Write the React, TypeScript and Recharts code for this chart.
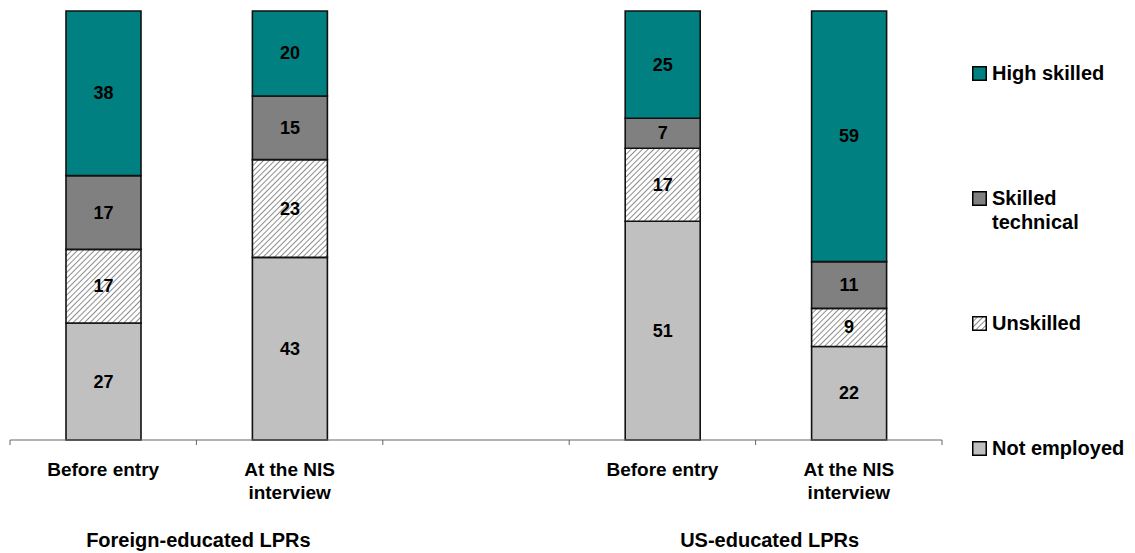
import { BarChart, Bar, XAxis, YAxis, LabelList } from 'recharts';

// occupation shares (percent) for each LPR group, before entry vs. at the NIS interview
const categories = ['Before entry', 'At the NIS\ninterview', '', 'Before entry', 'At the NIS\ninterview'];
const notEmployed = [27, 43, null, 51, 22];
const unskilled = [17, 23, null, 17, 9];
const skilledTechnical = [17, 15, null, 7, 11];
const highSkilled = [38, 20, null, 25, 59];

const groupLabels = ['Foreign-educated LPRs', 'US-educated LPRs'];
const groupSpans = [[0, 1], [3, 4]];

const series = [
  { key: 'notEmployed', name: 'Not employed', fill: '#C0C0C0' },
  { key: 'unskilled', name: 'Unskilled', fill: 'url(#hatch)' },
  { key: 'skilledTechnical', name: 'Skilled\ntechnical', fill: '#808080' },
  { key: 'highSkilled', name: 'High skilled', fill: '#008080' },
];

const data = categories.map((name, i) => ({
  name,
  notEmployed: notEmployed[i],
  unskilled: unskilled[i],
  skilledTechnical: skilledTechnical[i],
  highSkilled: highSkilled[i],
}));

const FONT = '"Liberation Sans", Arial, sans-serif';
const WIDTH = 1127;
const HEIGHT = 545;
const MARGIN = { top: 3, right: 193, left: 2, bottom: 13 };
const BAND = (WIDTH - MARGIN.left - MARGIN.right) / categories.length;

function CategoryTick(props: any) {
  const { x, y, payload, index } = props;
  const lines = String(payload.value).split('\n');
  const groupIdx = groupSpans.findIndex((s) => s[0] === index);
  const offsets = [2, 14];
  return (
    <g>
      <line x1={x - BAND / 2} x2={x - BAND / 2} y1={y} y2={y + 5} stroke="#666" />
      {index === categories.length - 1 && (
        <line x1={x + BAND / 2} x2={x + BAND / 2} y1={y} y2={y + 5} stroke="#666" />
      )}
      {lines.map((line, i) => (
        <text
          key={i}
          x={x}
          y={y + 36 + i * 23}
          textAnchor="middle"
          fontFamily={FONT}
          fontWeight="bold"
          fontSize={19}
          fill="#000"
        >
          {line}
        </text>
      ))}
      {groupIdx >= 0 && (
        <text
          x={x + (BAND * (groupSpans[groupIdx][1] - groupSpans[groupIdx][0])) / 2 + offsets[groupIdx]}
          y={y + 107}
          textAnchor="middle"
          fontFamily={FONT}
          fontWeight="bold"
          fontSize={20}
          fill="#000"
        >
          {groupLabels[groupIdx]}
        </text>
      )}
    </g>
  );
}

const renderValue = (props: any) => {
  const { x, y, width, height, value } = props;
  if (value == null) return null;
  return (
    <text
      x={x + width / 2}
      y={y + height / 2}
      dy={6}
      textAnchor="middle"
      fontFamily={FONT}
      fontWeight="bold"
      fontSize={18}
      fill="#000"
    >
      {value}
    </text>
  );
};

// legend rows, top to bottom, with their vertical centres
const legendRows = [
  { s: series[3], cy: 65 },
  { s: series[2], cy: 190 },
  { s: series[1], cy: 315 },
  { s: series[0], cy: 440 },
];

export default function App() {
  return (
    <div style={{ position: 'relative', width: WIDTH, height: HEIGHT }}>
      <BarChart width={WIDTH} height={HEIGHT} data={data} margin={MARGIN} stackOffset="expand">
        <defs>
          <pattern id="hatch" width="4" height="4" patternUnits="userSpaceOnUse" patternTransform="rotate(45)">
            <rect width="4" height="4" fill="#fff" />
            <line x1="0" y1="0" x2="0" y2="4" stroke="#707070" strokeWidth="1.6" />
          </pattern>
        </defs>
        <XAxis
          dataKey="name"
          height={100}
          interval={0}
          tickLine={false}
          tickSize={0}
          tickMargin={0}
          axisLine={{ stroke: '#666', strokeWidth: 1 }}
          tick={<CategoryTick />}
        />
        <YAxis hide domain={[0, 1]} />
        {series.map((s) => (
          <Bar
            key={s.key}
            dataKey={s.key}
            stackId="a"
            fill={s.fill}
            stroke="#111"
            strokeWidth={1.6}
            barSize={75}
            isAnimationActive={false}
          >
            <LabelList dataKey={s.key} content={renderValue} />
          </Bar>
        ))}
      </BarChart>
      {legendRows.map(({ s, cy }) => {
        const lines = s.name.split('\n');
        return (
          <div
            key={s.key}
            style={{
              position: 'absolute',
              left: 964,
              top: cy - 12,
              display: 'flex',
              alignItems: 'flex-start',
              fontFamily: FONT,
              fontWeight: 'bold',
              fontSize: 20,
              lineHeight: '24px',
              color: '#000',
            }}
          >
            <svg width={15} height={15} style={{ marginTop: 5, marginRight: 5, flex: 'none' }}>
              <rect x={0.75} y={0.75} width={13.5} height={13.5} fill={s.fill} stroke="#000" strokeWidth={1.5} />
            </svg>
            <div>
              {lines.map((l, i) => (
                <div key={i}>{l}</div>
              ))}
            </div>
          </div>
        );
      })}
    </div>
  );
}
